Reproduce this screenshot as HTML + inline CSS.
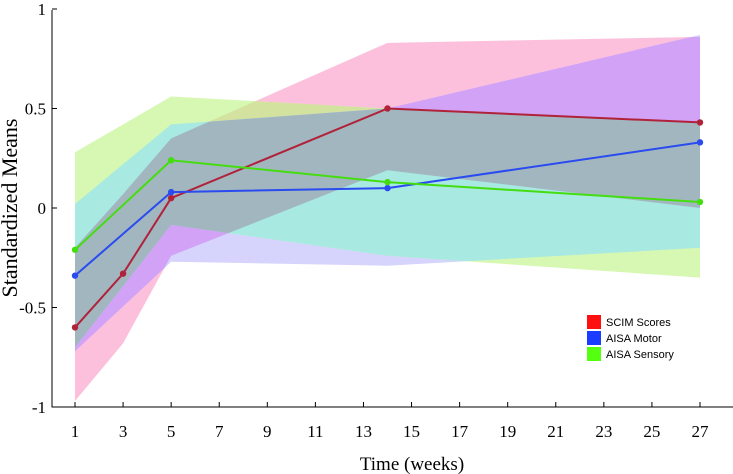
<!DOCTYPE html>
<html><head><meta charset="utf-8"><style>
html,body{margin:0;padding:0;background:#fff;width:733px;height:474px;overflow:hidden}
text{font-family:"Liberation Serif",serif}
</style></head><body>
<svg id="chart" width="733" height="474"></svg>
<script>
const scimWeeks=[1,3,5,14,27];
const scimMeans=[-0.6,-0.33,0.05,0.5,0.43];
const scimLow=[-0.97,-0.68,-0.24,0.19,0.0];
const scimHigh=[-0.2,0.07,0.35,0.83,0.86];
const motorWeeks=[1,5,14,27];
const motorMeans=[-0.34,0.08,0.1,0.33];
const motorLow=[-0.72,-0.27,-0.29,-0.2];
const motorHigh=[0.02,0.42,0.5,0.87];
const sensoryWeeks=[1,5,14,27];
const sensoryMeans=[-0.21,0.24,0.13,0.03];
const sensoryLow=[-0.7,-0.085,-0.24,-0.35];
const sensoryHigh=[0.28,0.56,0.5,0.43];
const xTicks=[1,3,5,7,9,11,13,15,17,19,21,23,25,27];
const yTicks=[-1,-0.5,0,0.5,1];
const yTickLabels=["-1","-0.5","0","0.5","1"];

const NS="http://www.w3.org/2000/svg";
const svg=document.getElementById('chart');
const X=w=>75+(w-1)*(625/26);
const Y=v=>208-v*199;
function mk(tag,attrs,parent){const e=document.createElementNS(NS,tag);for(const k in attrs)e.setAttribute(k,attrs[k]);(parent||svg).appendChild(e);return e;}
function bandPts(weeks,lo,hi){
  let pts=weeks.map((w,i)=>X(w)+','+Y(hi[i]));
  pts=pts.concat(weeks.map((w,i)=>X(w)+','+Y(lo[i])).reverse());
  return pts.join(' ');
}
const P={scim:bandPts(scimWeeks,scimLow,scimHigh),motor:bandPts(motorWeeks,motorLow,motorHigh),sensory:bandPts(sensoryWeeks,sensoryLow,sensoryHigh)};
const defs=mk('defs',{});
for(const k in P){const cp=mk('clipPath',{id:'clip-'+k},defs);mk('polygon',{points:P[k]},cp);}

function poly(k,color,name,parent){
  const p=mk('polygon',{points:P[k],fill:color},parent);
  
  
}
poly('scim','#fdc0dc','scim-band');
poly('motor','#d6d4fc','motor-band');
poly('sensory','#d6f8b2','sensory-band');
let g=mk('g',{'clip-path':'url(#clip-scim)'});poly('sensory','#d4e2a0','scim-sensory-overlap',g);
g=mk('g',{'clip-path':'url(#clip-scim)'});poly('motor','#d2a2f6','scim-motor-overlap',g);
g=mk('g',{'clip-path':'url(#clip-motor)'});poly('sensory','#a8e9e2','motor-sensory-overlap',g);
g=mk('g',{'clip-path':'url(#clip-scim)'});const g2=mk('g',{'clip-path':'url(#clip-motor)'},g);poly('sensory','#a2b6c0','all-overlap',g2);

function series(weeks,vals,color,name){
  const l=mk('polyline',{points:weeks.map((w,i)=>X(w)+','+Y(vals[i])).join(' '),fill:'none',stroke:color,'stroke-width':2});
  
  
  weeks.forEach((w,i)=>{
    const c=mk('circle',{cx:X(w),cy:Y(vals[i]),r:3.2,fill:color});
    
    
  });
}
series(scimWeeks,scimMeans,'#b0223a','scim');
series(motorWeeks,motorMeans,'#2a4bf0','motor');
series(sensoryWeeks,sensoryMeans,'#44dd10','sensory');

const ax=mk('path',{d:'M52,10 V407 H733',fill:'none',stroke:'#000','stroke-width':1});


yTicks.forEach((v,i)=>{
  mk('line',{x1:52,x2:57,y1:Y(v),y2:Y(v),stroke:'#000'});
  const t=mk('text',{x:46,y:Y(v)+6,'text-anchor':'end','font-size':17});
  t.textContent=yTickLabels[i];
  
  
});
xTicks.forEach(w=>{
  mk('line',{x1:X(w),x2:X(w),y1:402,y2:407,stroke:'#000'});
  const t=mk('text',{x:X(w),y:437,'text-anchor':'middle','font-size':17});
  t.textContent=String(w);
  
  
});
const xt=mk('text',{x:412,y:470,'text-anchor':'middle','font-size':19});
xt.textContent='Time (weeks)';


const yt=mk('text',{x:0,y:0,'text-anchor':'middle','font-size':22,transform:'translate(17,208) rotate(-90)'});
yt.textContent='Standardized Means';



const legendLabels=['SCIM Scores','AISA Motor','AISA Sensory'];
const legendColors=['#ff1010','#1a3cff','#55ff10'];
legendLabels.forEach((lab,i)=>{
  const y=315+i*16;
  const r=mk('rect',{x:587,y:y,width:14,height:14,fill:legendColors[i]});
  
  
  const t=mk('text',{x:606,y:y+11,'font-size':11,style:'font-family:"Liberation Sans",sans-serif'});
  t.textContent=lab;
  
  
});
</script>
</body></html>
